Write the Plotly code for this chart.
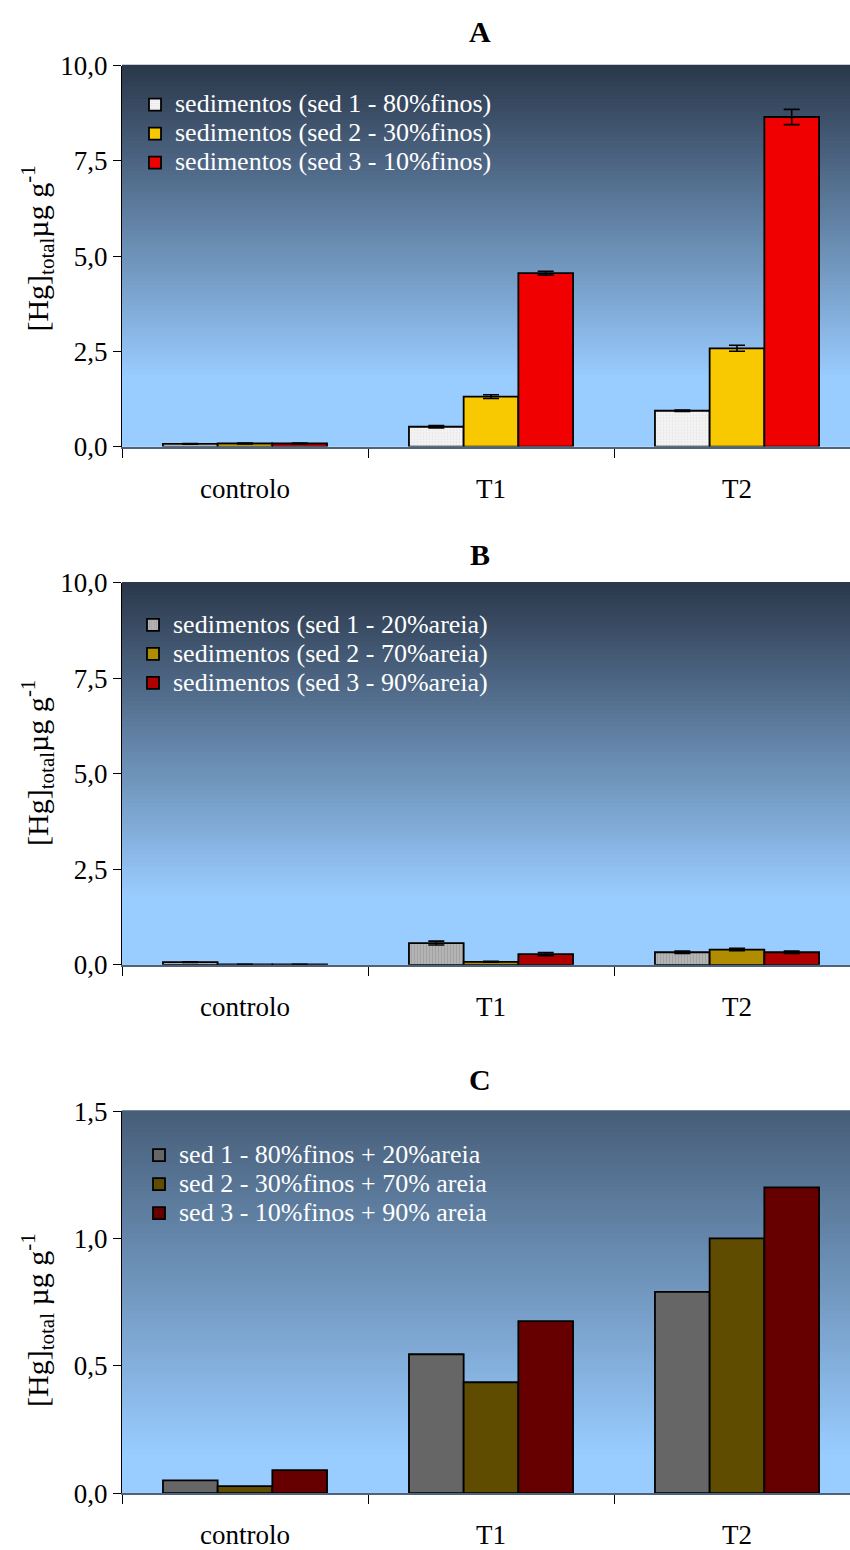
import plotly.graph_objects as go

categories = ["controlo", "T1", "T2"]

# Panel A
a_names = ["sedimentos (sed 1 - 80%finos)", "sedimentos (sed 2 - 30%finos)", "sedimentos (sed 3 - 10%finos)"]
a_sed1 = [0.07, 0.52, 0.94]
a_sed2 = [0.08, 1.31, 2.58]
a_sed3 = [0.08, 4.55, 8.65]
a_err1 = [0.01, 0.03, 0.02]
a_err2 = [0.01, 0.05, 0.08]
a_err3 = [0.01, 0.05, 0.20]

# Panel B
b_names = ["sedimentos (sed 1 - 20%areia)", "sedimentos (sed 2 - 70%areia)", "sedimentos (sed 3 - 90%areia)"]
b_sed1 = [0.07, 0.57, 0.33]
b_sed2 = [0.01, 0.08, 0.40]
b_sed3 = [0.01, 0.28, 0.33]
b_err1 = [0.01, 0.05, 0.03]
b_err2 = [0.005, 0.01, 0.03]
b_err3 = [0.005, 0.04, 0.03]

# Panel C
c_names = ["sed 1 - 80%finos + 20%areia", "sed 2 - 30%finos + 70% areia", "sed 3 - 10%finos + 90% areia"]
c_sed1 = [0.05, 0.545, 0.79]
c_sed2 = [0.027, 0.435, 1.0]
c_sed3 = [0.09, 0.675, 1.2]

FONT = "Liberation Serif, Times New Roman, serif"
W, H = 850, 1550
PLOT_L = 122


def Y(yref):
    # target pixel row -> figure pixel row
    return (yref - 13) / 0.983 + 4.5 * (yref - 64) / 1435


def py(yref):
    return 1 - Y(yref) / H


panels = [
    dict(key="", top=64, bot=447, rng=[0, 10], dt=2.5, title="A", ty=30,
         names=a_names, vals=[a_sed1, a_sed2, a_sed3], errs=[a_err1, a_err2, a_err3],
         colors=["#f4f4f4", "#f8c800", "#f00000"],
         grad_top=(42, 55, 74), grad_end=0.82, legx=135, legrow=104, ytitle_y=248,
         ytitle="[Hg]<sub>total</sub>µg g<sup>-1</sup>"),
    dict(key="2", top=584, bot=968, rng=[0, 10], dt=2.5, title="B", ty=555,
         names=b_names, vals=[b_sed1, b_sed2, b_sed3], errs=[b_err1, b_err2, b_err3],
         colors=["#aaaaaa", "#b08c00", "#b00000"],
         grad_top=(42, 55, 74), grad_end=0.82, legx=133, legrow=627, ytitle_y=765,
         ytitle="[Hg]<sub>total</sub>µg g<sup>-1</sup>"),
    dict(key="3", top=1115, bot=1499, rng=[0, 1.5], dt=0.5, title="C", ty=1083,
         names=c_names, vals=[c_sed1, c_sed2, c_sed3], errs=None,
         colors=["#666666", "#604c00", "#660000"],
         grad_top=(70, 93, 120), grad_end=0.9, legx=139, legrow=1160, ytitle_y=1325,
         ytitle="[Hg]<sub>total</sub> µg g<sup>-1</sup>"),
]

fig = go.Figure()
shapes = []
annotations = []
light = (153, 204, 255)
N = 90

for p in panels:
    k = p["key"]
    xa = "x" + k
    ya = "y" + k
    leg = "legend" + k
    for i, (nm, v, col) in enumerate(zip(p["names"], p["vals"], p["colors"])):
        kw = {}
        if p["errs"] is not None:
            kw["error_y"] = dict(type="data", array=p["errs"][i], visible=True,
                                 color="black", thickness=1.6, width=8)
        pattern = None
        if p["key"] == "" and i == 0:
            pattern = dict(shape=".", fgcolor="#cfcfcf", bgcolor="#f4f4f4", size=3, solidity=0.25)
        if p["key"] == "2" and i == 0:
            pattern = dict(shape="|", fgcolor="#8c8c8c", bgcolor="#b4b4b4", size=3, solidity=0.3)
        marker = dict(color=col, line=dict(color="black", width=1.8))
        if pattern:
            marker["pattern"] = pattern
        fig.add_trace(go.Bar(x=categories, y=v,
                             name='<span style="font-size:26px">%s</span>' % nm,
                             marker=marker, xaxis=xa, yaxis=ya, legend=leg, **kw))
    # gradient background
    top = p["grad_top"]
    for j in range(N):
        t = (j + 0.5) / N  # fraction from top
        f = min(t / p["grad_end"], 1.0)
        c = tuple(int(round(top[m] + (light[m] - top[m]) * f)) for m in range(3))
        shapes.append(dict(type="rect", xref=xa + " domain", yref=ya + " domain",
                           x0=0, x1=1, y0=1 - (j + 1) / N, y1=1 - j / N + 0.002,
                           fillcolor="rgb(%d,%d,%d)" % c, line=dict(width=0), layer="below"))
    annotations.append(dict(text="<b>%s</b>" % p["title"], x=480 / W, y=py(p["ty"]),
                            xref="paper", yref="paper", showarrow=False,
                            font=dict(family=FONT, size=30, color="black"),
                            xanchor="center", yanchor="middle"))
    annotations.append(dict(text=p["ytitle"], x=38 / W, y=py(p["ytitle_y"]),
                            xref="paper", yref="paper", showarrow=False, textangle=-90,
                            font=dict(family=FONT, size=30, color="black"),
                            xanchor="center", yanchor="middle"))
    dom = [py(p["bot"]), py(p["top"])]
    axis_x = dict(domain=[PLOT_L / W, 1], range=[-0.5, -0.5 + (W - PLOT_L) / 246.0],
                  showline=True, linecolor="#4f6279", linewidth=2, ticks="outside",
                  tickson="boundaries", ticklen=9, tickcolor="black", tickwidth=1,
                  showgrid=False, zeroline=False, anchor=ya,
                  tickfont=dict(family=FONT, size=27, color="black"), ticklabelstandoff=17)
    axis_y = dict(domain=dom, range=p["rng"], dtick=p["dt"], tick0=0, tickformat=".1f",
                  showline=True, linecolor="black", linewidth=1, ticks="outside",
                  ticklen=8, tickcolor="black", showgrid=False, zeroline=False, anchor=xa,
                  tickfont=dict(family=FONT, size=27, color="black"))
    fig.layout["xaxis" + k] = axis_x
    fig.layout["yaxis" + k] = axis_y
    fig.layout[leg] = dict(x=p["legx"] / W, y=1 - (Y(p["legrow"]) - 20.8) / H,
                           xanchor="left", yanchor="top",
                           bgcolor="rgba(0,0,0,0)", borderwidth=0,
                           font=dict(family=FONT, size=20, color="white"),
                           traceorder="normal", itemwidth=30)

fig.update_layout(
    width=W, height=H, margin=dict(l=0, r=0, t=0, b=0),
    paper_bgcolor="white", plot_bgcolor="#99ccff",
    barmode="group", bargap=0.333, bargroupgap=0.0,
    separators=", ", showlegend=True,
    shapes=shapes, annotations=annotations,
    font=dict(family=FONT, color="black"),
)

fig.write_html("out.html", config={"displayModeBar": False},
               post_script="document.body.style.margin='0';document.body.style.overflow='hidden';")
